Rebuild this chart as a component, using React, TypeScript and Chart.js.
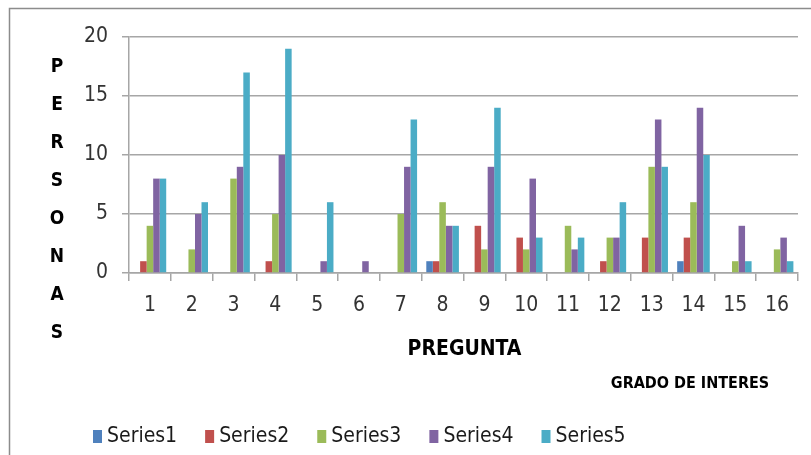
import React, { useEffect, useRef } from "react";
import { Chart, registerables } from "chart.js";

Chart.register(...registerables);

const categories = ["1", "2", "3", "4", "5", "6", "7", "8", "9", "10", "11", "12", "13", "14", "15", "16"];
const series1 = [0, 0, 0, 0, 0, 0, 0, 1, 0, 0, 0, 0, 0, 1, 0, 0];
const series2 = [1, 0, 0, 1, 0, 0, 0, 1, 4, 3, 0, 1, 3, 3, 0, 0];
const series3 = [4, 2, 8, 5, 0, 0, 5, 6, 2, 2, 4, 3, 9, 6, 1, 2];
const series4 = [8, 5, 9, 10, 1, 1, 9, 4, 9, 8, 2, 3, 13, 14, 4, 3];
const series5 = [8, 6, 17, 19, 6, 0, 13, 4, 14, 3, 3, 6, 9, 10, 1, 1];
const seriesNames = ["Series1", "Series2", "Series3", "Series4", "Series5"];
const seriesColors = ["#4F81BD", "#C0504D", "#9BBB59", "#8064A2", "#4BACC6"];
const yTitleLetters = ["P", "E", "R", "S", "O", "N", "A", "S"];
const xTitle = "PREGUNTA";
const subTitle = "GRADO DE INTERES";

const FONT = '"Liberation Sans Narrow", "DejaVu Sans Condensed", "Open Sans", sans-serif';

const decorPlugin = {
  id: "decor",
  afterDraw(chart: any) {
    const ctx = chart.ctx;
    const area = chart.chartArea;
    ctx.save();
    // outer frame
    ctx.strokeStyle = "#8c8c8c";
    ctx.lineWidth = 1.5;
    ctx.strokeRect(9.5, 8.5, 1000, 1000);

    // vertical y title letters
    ctx.fillStyle = "#000";
    ctx.font = `bold 19px ${FONT}`;
    ctx.textAlign = "center";
    ctx.textBaseline = "middle";
    yTitleLetters.forEach((l, i) => {
      ctx.fillText(l, 57, 67 + i * 38);
    });

    // x title
    ctx.font = `bold 21px ${FONT}`;
    ctx.fillText(xTitle, (area.left + area.right) / 2 + 1, 350);

    // sub title
    ctx.font = `bold 16px ${FONT}`;
    ctx.fillText(subTitle, 690, 384);

    // legend
    ctx.font = `21px ${FONT}`;
    ctx.textAlign = "left";
    let x = 93;
    const y = 436;
    chart.data.datasets.forEach((ds: any) => {
      ctx.fillStyle = ds.backgroundColor;
      ctx.fillRect(x, y - 6, 9, 13);
      ctx.fillStyle = "#1a1a1a";
      const tx = x + 14;
      ctx.fillText(ds.label, tx, y + 1);
      x = tx + ctx.measureText(ds.label).width + 28;
    });
    ctx.restore();
  },
};

export default function App() {
  const ref = useRef<HTMLCanvasElement | null>(null);
  useEffect(() => {
    if (!ref.current) return;
    const data = [series1, series2, series3, series4, series5];
    const chart = new Chart(ref.current, {
      type: "bar",
      data: {
        labels: categories,
        datasets: data.map((d, i) => ({
          label: seriesNames[i],
          data: d,
          backgroundColor: seriesColors[i],
          borderWidth: 0,
          categoryPercentage: 0.78,
          barPercentage: 1,
        })),
      },
      options: {
        responsive: false,
        animation: false,
        devicePixelRatio: 1,
        layout: { padding: { left: 0, top: 37, right: 13, bottom: 0 } },
        plugins: {
          legend: { display: false },
          tooltip: { enabled: false },
          title: { display: false },
        },
        scales: {
          x: {
            afterFit: (s: any) => {
              s.height = 182;
            },
            grid: {
              offset: true,
              drawOnChartArea: false,
              drawTicks: true,
              tickLength: 8,
              color: "#a6a6a6",
              lineWidth: 1.5,
            },
            border: { display: true, color: "#a6a6a6", width: 1.5 },
            ticks: {
              font: { family: FONT, size: 21 },
              color: "#333",
              padding: 12,
              maxRotation: 0,
              autoSkip: false,
            },
          },
          y: {
            min: 0,
            max: 20,
            afterFit: (s: any) => {
              s.width = 129;
            },
            ticks: {
              stepSize: 5,
              font: { family: FONT, size: 21 },
              color: "#333",
              padding: 14,
            },
            grid: {
              color: "#a6a6a6",
              lineWidth: 1.5,
              tickLength: 7,
            },
            border: { display: true, color: "#a6a6a6", width: 1.5 },
          },
        },
      },
      plugins: [decorPlugin],
    });
    return () => chart.destroy();
  }, []);
  return (
    <div style={{ position: "fixed", left: 0, top: 0, width: 811, height: 455, background: "#fff" }}>
      <canvas ref={ref} width={811} height={455} style={{ width: 811, height: 455, display: "block" }} />
    </div>
  );
}
